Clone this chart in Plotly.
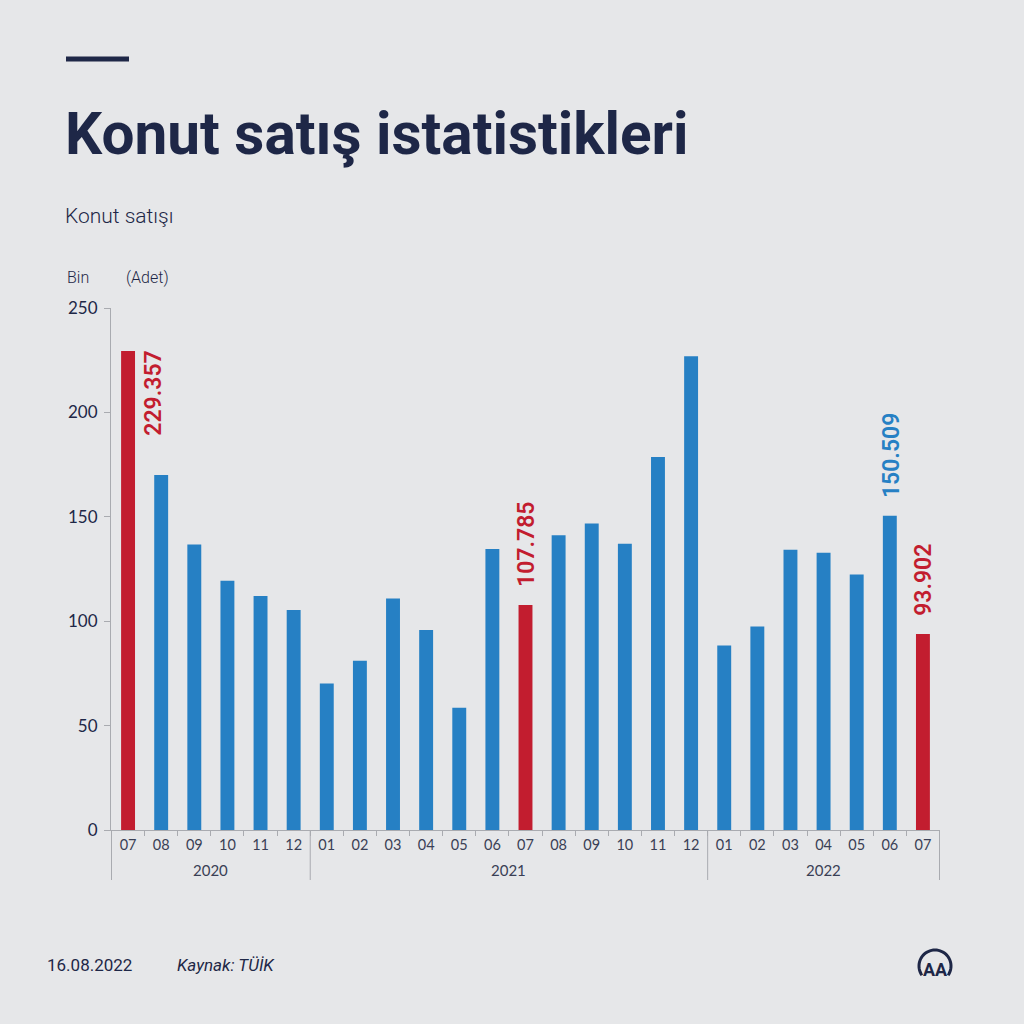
import math
import plotly.graph_objects as go

# ---- data (thousands of units) ----
years = ["2020"] * 6 + ["2021"] * 12 + ["2022"] * 7
months = ["07", "08", "09", "10", "11", "12",
          "01", "02", "03", "04", "05", "06", "07", "08", "09", "10", "11", "12",
          "01", "02", "03", "04", "05", "06", "07"]
sales = [229.357, 170.056, 136.709, 119.357, 112.052, 105.375,
         70.172, 81.036, 110.815, 95.769, 58.558, 134.633, 107.785, 141.210, 146.805, 137.106, 178.690, 226.948,
         88.351, 97.427, 134.201, 132.813, 122.413, 150.509, 93.902]
highlight = [0, 12, 24]          # red bars
labelled = [0, 12, 23, 24]       # bars with value labels
y_ticks = [0, 50, 100, 150, 200, 250]

BLUE = "#2680c4"
RED = "#c21d2f"
NAVY = "#1e2747"
BG = "#e6e7e9"
AXIS = "#a9abb0"
TICKTXT = "#3a3f55"

keys = [f"{y}-{m}" for y, m in zip(years, months)]
colors = [RED if i in highlight else BLUE for i in range(len(sales))]

W, H = 1024, 1024
L, R, T, B = 111, 940, 308, 830  # plot area in pixels


def px(x):
    return (x - L) / (R - L)


def py(y):
    return (B - y) / (B - T)


fig = go.Figure(go.Bar(
    x=keys, y=sales,
    marker=dict(color=colors, line=dict(width=0)),
    width=0.42, hoverinfo="skip"))

annotations = []
for i in labelled:
    v = sales[i]
    col = RED if i in highlight else BLUE
    txt = f"{v:.3f}"
    if i == 0:
        annotations.append(dict(x=i, y=v, xref="x", yref="y", text=txt, textangle=-90,
                                showarrow=False, xanchor="center", yanchor="top", xshift=26, yshift=2,
                                font=dict(family="Roboto", size=23, color=col, weight=600)))
    else:
        annotations.append(dict(x=i, y=v, xref="x", yref="y", text=txt, textangle=-90,
                                showarrow=False, xanchor="center", yanchor="bottom", xshift=1, yshift=16,
                                font=dict(family="Roboto", size=23, color=col, weight=600)))

# year group labels and dividers
groups = []
for i, y in enumerate(years):
    if not groups or groups[-1][0] != y:
        groups.append([y, i, i])
    else:
        groups[-1][2] = i

shapes = []
for y, a, b in groups:
    annotations.append(dict(x=(a + b) / 2, y=py(870), xref="x", yref="paper", text=y,
                            showarrow=False, xanchor="center", yanchor="middle",
                            font=dict(family="Lato", size=15, color=TICKTXT)))
    shapes.append(dict(type="line", xref="x", yref="paper", x0=a - 0.5, x1=a - 0.5,
                       y0=0, y1=py(880), line=dict(color=AXIS, width=1)))
shapes.append(dict(type="line", xref="x", yref="paper", x0=groups[-1][2] + 0.5, x1=groups[-1][2] + 0.5,
                   y0=0, y1=py(880), line=dict(color=AXIS, width=1)))

# titles / texts (paper coords)
annotations += [
    dict(x=px(63), y=py(134), xref="paper", yref="paper", text="Konut satış istatistikleri",
         showarrow=False, xanchor="left", yanchor="middle",
         font=dict(family="Roboto", size=58.5, color=NAVY, weight=700)),
    dict(x=px(63), y=py(216), xref="paper", yref="paper", text="Konut satışı",
         showarrow=False, xanchor="left", yanchor="middle",
         font=dict(family="Roboto", size=21, color=NAVY, weight=300)),
    dict(x=px(65), y=py(277), xref="paper", yref="paper", text="Bin",
         showarrow=False, xanchor="left", yanchor="middle",
         font=dict(family="Roboto", size=16, color=NAVY, weight=300)),
    dict(x=px(124), y=py(277), xref="paper", yref="paper", text="(Adet)",
         showarrow=False, xanchor="left", yanchor="middle",
         font=dict(family="Roboto", size=16, color=NAVY, weight=300)),
    dict(x=px(45), y=py(965), xref="paper", yref="paper", text="16.08.2022",
         showarrow=False, xanchor="left", yanchor="middle",
         font=dict(family="Roboto", size=17, color=NAVY)),
    dict(x=px(175), y=py(965), xref="paper", yref="paper", text="<i>Kaynak: TÜİK</i>",
         showarrow=False, xanchor="left", yanchor="middle",
         font=dict(family="Roboto", size=17, color=NAVY)),
    dict(x=px(935), y=py(969), xref="paper", yref="paper", text="<b>AA</b>",
         showarrow=False, xanchor="center", yanchor="middle",
         font=dict(family="Roboto", size=18, color=NAVY)),
]

# logo arc (open at the bottom)
cx, cy, r = 935, 966, 16
pts = []
for k in range(41):
    a = math.radians(-35 + k * (250 / 40))
    pts.append((px(cx + r * math.cos(a)), py(cy - r * math.sin(a))))
path = "M " + " L ".join(f"{x:.5f},{y:.5f}" for x, y in pts)

shapes += [
    dict(type="line", xref="paper", yref="paper", x0=px(66), x1=px(129), y0=py(59), y1=py(59),
         line=dict(color=NAVY, width=5)),
    dict(type="path", xref="paper", yref="paper", path=path, line=dict(color=NAVY, width=3)),
]

fig.update_layout(
    width=W, height=H,
    paper_bgcolor=BG, plot_bgcolor=BG,
    margin=dict(l=L, r=W - R, t=T, b=H - B, pad=0),
    showlegend=False,
    annotations=annotations,
    shapes=shapes,
    xaxis=dict(
        type="category", tickmode="array", tickvals=keys, ticktext=months,
        tickson="boundaries",
        showline=True, linecolor=AXIS, linewidth=1,
        ticks="outside", ticklen=5, tickcolor=AXIS,
        tickfont=dict(family="Lato", size=14.5, color=TICKTXT),
        ticklabelstandoff=2,
        showgrid=False, zeroline=False,
    ),
    yaxis=dict(
        range=[0, 250], tickvals=y_ticks, showgrid=False, zeroline=False,
        showline=True, linecolor=AXIS, linewidth=1,
        ticks="outside", ticklen=6, tickcolor=AXIS,
        ticklabelstandoff=3,
        tickfont=dict(family="Lato", size=17, color=NAVY),
    ),
)

fig.write_html("out.html", config={"displayModeBar": False},
               post_script="document.body.style.margin='0';")
